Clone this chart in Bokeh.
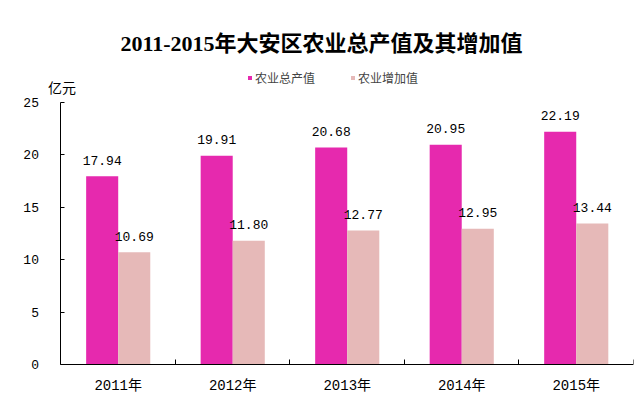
from bokeh.plotting import figure
from bokeh.models import (ColumnDataSource, Range1d, FixedTicker, CustomJSTickFormatter,
                          Legend, LegendItem, Label)
from bokeh.transform import dodge
from bokeh.embed import file_html
from bokeh.resources import INLINE

# data
years = ["2011年", "2012年", "2013年", "2014年", "2015年"]
total_output = [17.94, 19.91, 20.68, 20.95, 22.19]   # 农业总产值
added_value = [10.69, 11.80, 12.77, 12.95, 13.44]    # 农业增加值
y_ticks = [0, 5, 10, 15, 20, 25]

MAGENTA = "#E629AE"
PINK = "#E6B9B8"
NUM_FONT = "Liberation Mono, Noto Sans CJK SC"
CJK_FONT = "Noto Sans CJK SC"

centers = [i + 0.5 for i in range(len(years))]
bounds = [i + 1.0 for i in range(len(years))]

src = ColumnDataSource(data=dict(
    x=centers,
    total=total_output,
    added=added_value,
    total_txt=["%.2f" % v for v in total_output],
    added_txt=["%.2f" % v for v in added_value],
))

# the frame reaches past both axes so nothing gets clipped;
# both axes are pinned at 0
p = figure(width=641, height=403, output_backend="svg", toolbar_location=None,
           x_range=Range1d(-0.397, len(years)), y_range=Range1d(-3.72, 28.98),
           min_border_left=15, min_border_right=8, min_border_top=60, min_border_bottom=0)
p.outline_line_color = None
p.grid.grid_line_color = None

p.title.text = "2011-2015年大安区农业总产值及其增加值"
p.title.align = "left"
p.title.offset = 105
p.title.text_font = "Liberation Serif, Noto Sans CJK SC"
p.title.text_font_size = "22px"
p.title.text_font_style = "bold"
p.title.text_color = "black"

bw = 0.28
r1 = p.vbar(x=dodge("x", -bw / 2), top="total", width=bw, source=src,
            fill_color=MAGENTA, line_color=None)
r2 = p.vbar(x=dodge("x", bw / 2), top="added", width=bw, source=src,
            fill_color=PINK, line_color=None)

for fld, txt, off in (("total", "total_txt", -bw / 2), ("added", "added_txt", bw / 2)):
    p.text(x=dodge("x", off), y=fld, text=txt, source=src, y_offset=-16,
           text_align="center", text_baseline="middle",
           text_font={"value": NUM_FONT}, text_font_size="13px", text_color="black")

# y axis
ya = p.yaxis[0]
ya.fixed_location = 0
ya.ticker = FixedTicker(ticks=y_ticks)
ya.bounds = (0, 25)
ya.major_tick_in = 4
ya.major_tick_out = 0
ya.minor_tick_line_color = None
ya.major_label_standoff = 22
ya.major_label_text_font = NUM_FONT
ya.major_label_text_font_size = "13px"
ya.major_label_text_color = "black"
ya.axis_line_color = "black"
ya.major_tick_line_color = "black"

# x axis: labels at category centers, tick marks at the boundaries
xa = p.xaxis[0]
xa.fixed_location = 0
xa.bounds = (0, len(years))
xa.ticker = FixedTicker(ticks=centers, minor_ticks=bounds)
xa.formatter = CustomJSTickFormatter(args=dict(labels=years),
                                     code="return labels[Math.floor(tick)];")
xa.major_tick_in = 0
xa.major_tick_out = 0
xa.minor_tick_in = 5
xa.minor_tick_out = 0
xa.minor_tick_line_color = "black"
xa.major_label_standoff = 14
xa.major_label_text_font = NUM_FONT
xa.major_label_text_font_size = "14px"
xa.major_label_text_color = "black"
xa.axis_line_color = "black"

p.add_layout(Label(x=0.01, y=26.5, text="亿元", text_align="center", text_baseline="middle",
                   text_font=CJK_FONT, text_font_size="14px", text_color="black"))

legend = Legend(items=[LegendItem(label="农业总产值", renderers=[r1]),
                       LegendItem(label="农业增加值", renderers=[r2])],
                orientation="horizontal", location=(232, 317),
                glyph_width=5, glyph_height=5, label_standoff=3, spacing=35,
                padding=0, margin=0, label_height=12,
                label_text_font=CJK_FONT, label_text_font_size="12px",
                border_line_color=None, background_fill_alpha=0)
p.add_layout(legend)

open("out.html", "w").write(file_html(p, INLINE))
